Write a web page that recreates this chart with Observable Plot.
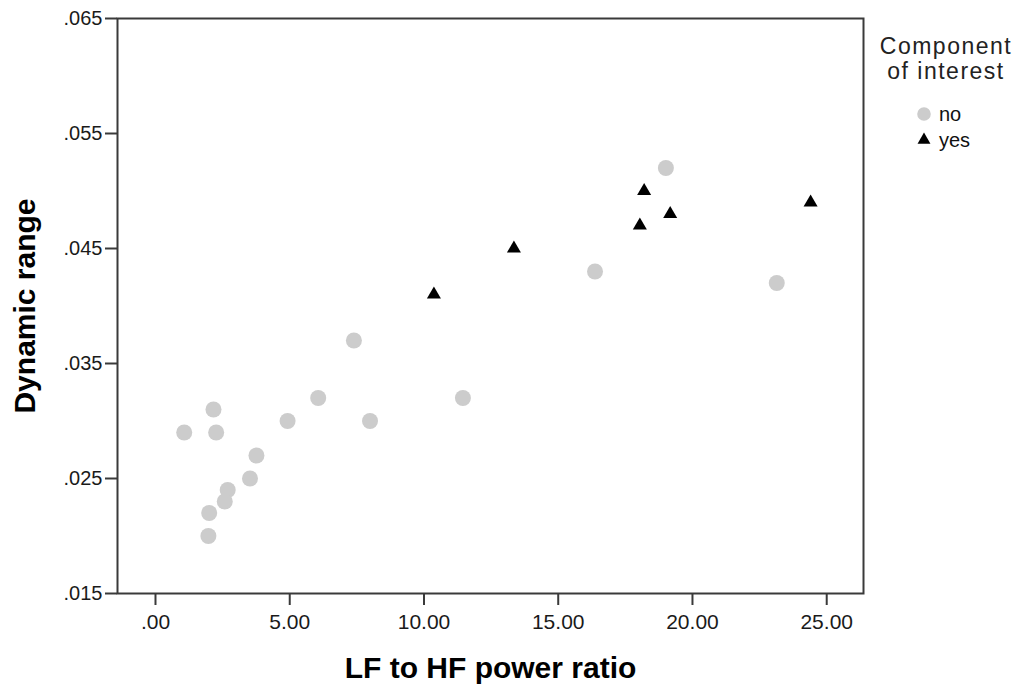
<!DOCTYPE html>
<html><head><meta charset="utf-8">
<script src="https://cdn.jsdelivr.net/npm/d3@7"></script>
<script src="https://cdn.jsdelivr.net/npm/@observablehq/plot@0.6"></script>
<style>
body{margin:0;background:#fff;}
#wrap{position:relative;width:1018px;height:685px;font-family:"Liberation Sans",Arial,sans-serif;}
#legend{position:absolute;left:868px;top:0px;}
</style></head><body><div id="wrap"></div>
<script>
// Data
const noX = [1.07, 2.16, 2.26, 3.76, 3.52, 2.69, 2.58, 2.00, 1.97, 4.92, 6.06, 7.99, 7.39, 11.45, 16.37, 19.01, 23.14];
const noY = [0.029, 0.031, 0.029, 0.027, 0.025, 0.024, 0.023, 0.022, 0.020, 0.030, 0.032, 0.030, 0.037, 0.032, 0.043, 0.052, 0.042];
const yesX = [10.37, 13.35, 18.04, 18.20, 19.17, 24.40];
const yesY = [0.041, 0.045, 0.047, 0.050, 0.048, 0.049];
const groups = ["no", "yes"];
const xTicks = [0, 5, 10, 15, 20, 25];
const yTicks = [0.015, 0.025, 0.035, 0.045, 0.055, 0.065];
const xTitle = "LF to HF power ratio";
const yTitle = "Dynamic range";
const legendTitle = ["Component", "of interest"];

const noData = noX.map((x, i) => ({x, y: noY[i], g: groups[0]}));
const yesData = yesX.map((x, i) => ({x, y: yesY[i], g: groups[1]}));

const fmtX = d => d3.format(".2f")(d).replace(/^0\./, ".");
const fmtY = d => d3.format(".3f")(d).replace(/^0\./, ".");
const axisColor = "#3a3a3a";

const chart = Plot.plot({
  width: 1018, height: 685,
  marginLeft: 117, marginRight: 155, marginTop: 18, marginBottom: 92,
  style: {fontFamily: "'Liberation Sans', Arial, sans-serif", background: "#fff", color: "#000"},
  x: {domain: [-1.415, 26.37]},
  y: {domain: [0.015, 0.065]},
  marks: [
    Plot.dot(noData, {x: "x", y: "y", r: 8, fill: "#cccccc", symbol: "circle"}),
    Plot.dot(yesData, {x: "x", y: "y", r: 5.2, fill: "#000", symbol: "triangle"}),
    Plot.frame({stroke: axisColor, strokeWidth: 2}),
    Plot.axisX({ticks: xTicks, tickFormat: fmtX, tickSize: 12, tickPadding: 9, fontSize: 21, stroke: axisColor, strokeWidth: 2, label: null, fill: "#1a1a1a"}),
    Plot.axisY({ticks: yTicks, tickFormat: fmtY, tickSize: 12, tickPadding: 3, fontSize: 20, stroke: axisColor, strokeWidth: 2, label: null, fill: "#1a1a1a"}),
    Plot.axisX({ticks: [], label: xTitle, labelArrow: false, labelAnchor: "center", labelOffset: 84, fontSize: 30, fontWeight: "bold", fill: "#000"}),
    Plot.axisY({ticks: [], label: yTitle, labelArrow: false, labelAnchor: "center", labelOffset: 104, fontSize: 30, fontWeight: "bold", fill: "#000"})
  ]
});
document.getElementById("wrap").appendChild(chart);

// Legend
const leg = d3.select("#wrap").append("svg").attr("id", "legend")
  .attr("width", 150).attr("height", 170)
  .style("font-family", "'Liberation Sans', Arial, sans-serif");
leg.selectAll("text.t").data(legendTitle).join("text").attr("class", "t")
  .attr("x", 78).attr("y", (d, i) => 54 + i * 25)
  .attr("text-anchor", "middle").attr("font-size", 23).attr("letter-spacing", 1.5)
  .attr("fill", "#222").text(d => d);
const syms = [d3.symbolCircle, d3.symbolTriangle];
const sizes = [Math.PI * 6.8 * 6.8, Math.PI * 4.8 * 4.8];
const fills = ["#cccccc", "#000"];
const item = leg.selectAll("g.item").data(groups).join("g").attr("class", "item")
  .attr("transform", (d, i) => `translate(56,${114 + i * 26})`);
item.append("path").attr("d", (d, i) => d3.symbol(syms[i], sizes[i])()).attr("fill", (d, i) => fills[i]);
item.append("text").attr("x", 15).attr("y", 7).attr("font-size", 20).attr("fill", "#111").text(d => d);
</script>
</body></html>
